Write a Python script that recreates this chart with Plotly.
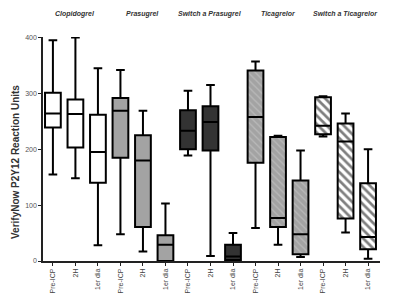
import plotly.graph_objects as go

groups = ["Clopidogrel", "Prasugrel", "Switch a Prasugrel", "Ticagrelor", "Switch a Ticagrelor"]
times = ["Pre-ICP", "2H", "1er dia"]

# per group: 3 time points
upper = [[395, 400, 345], [342, 269, 103], [305, 315, 50], [357, 224, 198], [295, 264, 200]]
q3 = [[301, 289, 262], [292, 225, 46], [270, 277, 29], [341, 222, 144], [293, 246, 139]]
median = [[264, 263, 195], [269, 180, 29], [233, 249, 8], [258, 77, 48], [242, 214, 43]]
q1 = [[239, 203, 140], [185, 61, 0], [200, 198, 2], [176, 61, 12], [227, 76, 21]]
lower = [[155, 148, 28], [48, 17, 0], [189, 9, 0], [59, 29, 7], [223, 51, 4]]

fills = ["white", "#a3a3a3", "#333333", "#a3a3a3", "white"]
patterns = [None, None, None, dict(shape="\\", fgcolor="#d0d0d0", bgcolor="#a3a3a3", size=5, solidity=0.25),
            dict(shape="\\", fgcolor="black", bgcolor="white", size=6, solidity=0.45)]

fig = go.Figure()
for g in range(len(groups)):
    xs = [g * 3 + i for i in range(3)]
    if patterns[g] is not None:
        fig.add_trace(go.Bar(
            x=xs, base=q1[g], y=[q3[g][i] - q1[g][i] for i in range(3)],
            width=0.7, marker=dict(color=fills[g], pattern=patterns[g], line=dict(width=0)),
            showlegend=False, hoverinfo="skip"))
    fig.add_trace(go.Box(
        x=xs, q1=q1[g], median=median[g], q3=q3[g],
        lowerfence=lower[g], upperfence=upper[g],
        fillcolor="rgba(0,0,0,0)" if patterns[g] is not None else fills[g],
        line=dict(color="black", width=2), width=0.7, whiskerwidth=0.55,
        showlegend=False, boxpoints=False))

for g, name in enumerate(groups):
    fig.add_annotation(x=g * 3 + 1, y=1.103, xref="x", yref="paper", text="<b><i>" + name + "</i></b>",
                       showarrow=False, font=dict(family="Liberation Sans, Arial", size=7, color="#333333"),
                       xanchor="center", yanchor="middle")

fig.add_annotation(x=-0.08, y=0.442, xref="paper", yref="paper", textangle=-90,
                   xanchor="center", yanchor="middle",
                   text="<b>VerifyNow P2Y12 Reaction Units</b>", showarrow=False,
                   font=dict(family="Liberation Sans, Arial", size=10, color="#333333"))

tickvals = list(range(15))
ticktext = times * 5

fig.update_layout(
    width=386, height=295, margin=dict(l=35, r=14, t=29, b=42, autoexpand=False),
    plot_bgcolor="white", paper_bgcolor="white",
    barmode="overlay", boxmode="overlay",
    xaxis=dict(range=[-0.44, 14.53], tickvals=tickvals, ticktext=ticktext, tickangle=-90,
               automargin=False,
               showgrid=False, zeroline=False, showline=True, linecolor="#222222", linewidth=1.5,
               ticks="outside", ticklen=3, tickcolor="#222222",
               tickfont=dict(family="Liberation Sans, Arial", size=7, color="#444444")),
    yaxis=dict(range=[0, 401], tickvals=[0, 100, 200, 300, 400], showgrid=False, zeroline=False,
               automargin=False,
               showline=True, linecolor="#222222", linewidth=1.5, ticks="outside", ticklen=3,
               tickcolor="#222222",
               tickfont=dict(family="Liberation Sans, Arial", size=7, color="#555555")),
)

fig.write_html("out.html")
